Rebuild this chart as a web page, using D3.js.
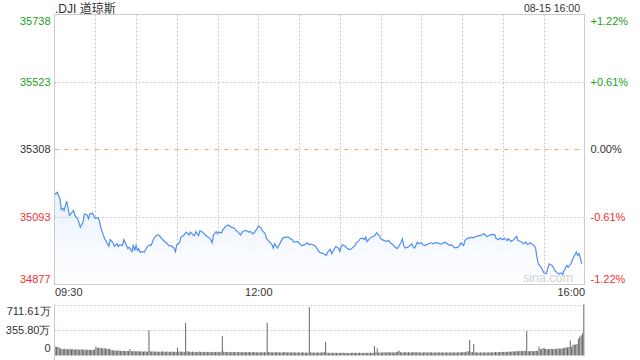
<!DOCTYPE html>
<html><head><meta charset="utf-8">
<script src="https://cdn.jsdelivr.net/npm/d3@7"></script>
<style>
html,body{margin:0;padding:0;background:#fff;}
svg{display:block;font-family:"Liberation Sans",Arial,"Noto Sans CJK SC",sans-serif;}
</style></head>
<body><svg id="c" width="640" height="360"></svg>
<script>
const title = ".DJI 道琼斯";
const stamp = "08-15 16:00";
const prevClose = 35308;
const priceTicks = [35738, 35523, 35308, 35093, 34877];
const pctTicks = ["+1.22%", "+0.61%", "0.00%", "-0.61%", "-1.22%"];
const timeTickMinutes = [0, 150, 390];
const timeTickLabels = ["09:30", "12:00", "16:00"];
const volTicks = [711.61, 355.80, 0];
const volTickLabels = ["711.61万", "355.80万", "0"];

const minutes = [0,2,4,5,6,7,9,11,12,14,15,17,19,21,22,24,25,26,28,29,30,32,33,34,36,37,39,40,41,43,44,46,47,48,50,51,53,54,55,57,58,59,60,61,62,63,65,66,68,70,71,73,75,76,77,79,81,83,84,86,88,89,90,92,93,95,96,
97,99,100,102,103,104,106,107,109,111,112,114,115,116,117,119,120,121,123,124,126,128,130,132,133,135,137,138,140,141,143,144,146,147,149,150,152,153,155,156,158,160,161,162,164,165,167,168,170,172,173,175,176,178,179,181,182,184,186,187,189,190,192,193,
195,197,198,200,201,203,204,206,207,209,210,211,212,214,215,217,218,219,221,222,224,225,227,228,229,230,232,233,235,236,237,239,240,241,243,244,246,247,249,250,252,253,255,256,257,258,260,261,263,264,265,267,268,270,271,272,274,275,277,279,280,282,284,285,287,288,290,
291,292,294,295,297,298,299,301,302,304,305,307,308,310,311,313,314,316,317,318,320,321,323,324,325,327,328,330,331,333,334,336,337,338,340,341,343,344,345,347,348,350,351,353,354,355,356,357,359,360,362,363,364,366,367,368,370,371,373,374,375,377,378,380,381,382,384,385,386,387,388];

const prices = [35163,35171,35150,35116,35120,35113,35142,35097,35102,35113,35097,35087,35060,35076,35102,35099,35087,35102,35104,35095,35088,35090,35081,35060,35033,35023,35007,34999,35020,35010,34999,35007,34998,35004,35001,35020,35001,34991,34996,34982,35004,34985,35001,34985,34991,34980,34982,34980,34996,35004,35001,35023,35033,35035,35033,35023,35014,35007,35001,35000,34993,34982,35004,35010,35028,35033,35039,
35044,35035,35044,35035,35033,35046,35033,35049,35044,35035,35031,35025,35020,35010,35035,35046,35039,35044,35042,35052,35063,35067,35060,35057,35052,35044,35035,35044,35049,35049,35044,35046,35039,35042,35055,35063,35057,35049,35039,35023,35014,35004,34993,35007,34993,35001,35017,35025,35028,35028,35025,35020,35012,35014,35014,35004,35001,35004,35010,35004,35006,35004,34999,34993,
34980,34977,34975,34970,34980,34989,34975,34991,34998,34993,34982,34999,35004,34999,34993,34989,34989,34993,35001,35010,35017,35023,35025,35020,35028,35014,35023,35028,35031,35035,35042,35033,35023,35020,35017,35014,35017,35010,35004,34999,34991,34996,35012,35023,35001,34993,34996,34999,35007,34996,34993,35012,35007,35010,35004,35001,35004,35007,35010,35007,35010,35010,35006,35007,35012,35010,35004,
35001,35004,34996,34994,34996,35001,35010,35001,35017,35025,35025,35028,35026,35030,35031,35033,35035,35039,35035,35030,35033,35036,35037,35036,35023,35020,35025,35020,35025,35017,35023,35014,35017,35020,35031,35017,35014,35012,35007,35012,35004,35010,35007,35001,34993,34964,34943,34938,34925,34914,34911,34929,34943,34938,34932,34922,34914,34911,34914,34908,34922,34938,34932,34943,34954,34964,34980,34970,34975,34961,34943];

// per-minute volume, in 万
const volumes = [
125,118,120,110,95,92,88,95,90,85,
88,92,85,90,86,82,88,84,80,86,
85,80,84,78,82,80,78,76,80,85,
125,105,110,100,108,95,102,98,92,88,
95,80,75,70,72,68,65,70,66,62,
68,64,60,65,62,90,64,58,62,60,
58,62,55,60,56,52,58,55,54,350,
60,55,58,52,56,54,50,55,52,58,
54,50,56,52,48,55,52,50,54,48,
106,52,58,50,55,48,454,60,52,56,
50,54,48,52,46,50,55,48,52,46,
50,48,52,46,50,44,48,52,46,50,
48,46,52,270,55,48,50,46,48,44,
50,46,48,44,47,50,45,48,44,46,
48,44,46,50,42,46,48,44,46,42,
46,44,48,42,45,46,454,50,44,46,
42,46,44,48,42,45,44,42,46,48,
44,42,46,40,44,42,45,43,40,44,
42,40,44,42,38,42,40,676,45,40,
42,38,40,44,38,42,40,45,50,191,
40,38,36,40,38,36,40,37,38,35,
38,36,40,35,38,36,34,38,36,40,
36,38,35,37,40,36,38,35,37,36,
38,36,40,35,38,131,45,100,42,40,
44,42,46,40,45,48,42,44,46,40,
44,48,52,70,46,44,42,48,45,42,
46,44,42,45,48,43,46,42,44,40,
44,42,46,43,40,45,42,44,41,43,
40,44,42,45,41,43,40,42,44,41,
43,40,45,42,44,41,43,46,42,45,
48,44,50,55,60,215,52,48,160,45,
42,44,40,43,41,44,42,45,40,44,
42,46,43,45,48,44,46,50,47,49,
52,48,55,50,54,52,56,58,55,60,
58,62,60,65,62,64,66,340,60,62,
58,64,60,62,66,62,125,92,88,105,
98,92,86,90,88,94,88,90,92,96,
94,98,96,100,102,108,115,112,118,210,
120,152,148,155,160,230,262,280,310,711.61];

const green = "#1ca01c", red = "#f03030", dark = "#333";
const tickColors = [green, green, dark, red, red];

const L = 54.5, R = 584.5, T = 14.5, B = 284.5;
const VT = 304.5, VB = 355.5;
const svg = d3.select("#c");

const x = d3.scaleLinear().domain([0, 390]).range([L, R]);
const y = d3.scaleLinear().domain([34877, 35738]).range([B, T]);
const vy = d3.scaleLinear().domain([0, 711.61]).range([VB, VT]);
const vx = d3.scaleBand().domain(d3.range(volumes.length)).range([L, R]);

// gradient
const defs = svg.append("defs");
const g = defs.append("linearGradient").attr("id","ag").attr("x1",0).attr("y1",0).attr("x2",0).attr("y2",1);
g.append("stop").attr("offset","0%").attr("stop-color","#e9f1fe").attr("stop-opacity",1);
g.append("stop").attr("offset","100%").attr("stop-color","#ffffff").attr("stop-opacity",1);

// vertical grid
const vgrid = d3.range(30, 390, 30);
svg.append("g").selectAll("line").data(vgrid).join("line")
  .attr("x1", d => Math.round(x(d)) + 0.5).attr("x2", d => Math.round(x(d)) + 0.5)
  .attr("y1", T).attr("y2", B)
  .attr("stroke", "#c8c8c8").attr("stroke-dasharray", "2,2");

const pts = minutes.map((m, i) => [m, prices[i]]);
svg.append("path").datum(pts)
  .attr("d", d3.area().x(d => x(d[0])).y0(B).y1(d => y(d[1])))
  .attr("fill", "url(#ag)");

// horizontal grid
svg.append("g").selectAll("line").data([priceTicks[1], priceTicks[3]]).join("line")
  .attr("x1", L).attr("x2", R)
  .attr("y1", d => Math.round(y(d)) + 0.5).attr("y2", d => Math.round(y(d)) + 0.5)
  .attr("stroke", "#c8c8c8").attr("stroke-dasharray", "2,2");
// previous close line
const pcY = Math.round(y(prevClose)) + 0.5;
svg.append("line").attr("x1", L).attr("x2", R).attr("y1", pcY).attr("y2", pcY)
  .attr("stroke", "#cfcfcf").attr("stroke-dasharray", "1,9").attr("stroke-dashoffset", -6);
svg.append("line").attr("x1", L).attr("x2", R).attr("y1", pcY).attr("y2", pcY)
  .attr("stroke", "#f3a26c").attr("stroke-dasharray", "4,6");

// watermark
svg.append("text").attr("x", 573).attr("y", 282).attr("text-anchor","end")
  .attr("font-size", 12.5).attr("fill", "#d0d0d0").text("sina.com");

svg.append("path").datum(pts)
  .attr("d", d3.line().x(d => x(d[0])).y(d => y(d[1])))
  .attr("fill", "none").attr("stroke", "#4f8ef2").attr("stroke-width", 1.2);

// frame
svg.append("rect").attr("x", L).attr("y", T).attr("width", R - L).attr("height", B - T)
  .attr("fill", "none").attr("stroke", "#cccccc");

const dyFor = n => (d, i) => i === 0 ? "0.95em" : i === n - 1 ? "-0.2em" : "0.32em";

// left axis
const la = svg.append("g").attr("transform", `translate(${L},0)`)
  .call(d3.axisLeft(y).tickValues(priceTicks).tickSize(0).tickPadding(4).tickFormat(d3.format("d")));
la.select(".domain").remove();
la.selectAll("text").attr("font-size", 11).attr("font-family", null)
  .attr("fill", (d, i) => tickColors[i]).attr("dy", dyFor(5));

// right axis
const ra = svg.append("g").attr("transform", `translate(${R},0)`)
  .call(d3.axisRight(y).tickValues(priceTicks).tickSize(0).tickPadding(6)
    .tickFormat((d, i) => pctTicks[i]));
ra.select(".domain").remove();
ra.selectAll("text").attr("font-size", 11).attr("font-family", null)
  .attr("fill", (d, i) => tickColors[i]).attr("dy", dyFor(5));

// time axis
const ta = svg.append("g").attr("transform", `translate(0,${B})`)
  .call(d3.axisBottom(x).tickValues(timeTickMinutes).tickSize(0).tickPadding(4)
    .tickFormat((d, i) => timeTickLabels[i]));
ta.select(".domain").remove();
ta.selectAll("text").attr("font-size", 11).attr("font-family", null).attr("fill", dark)
  .attr("text-anchor", (d, i) => i === 0 ? "start" : i === 2 ? "end" : "middle");

// title & stamp
svg.append("text").attr("x", 55).attr("y", 12.5).attr("font-size", 12).attr("fill", dark).text(title);
svg.append("text").attr("x", 580).attr("y", 12).attr("text-anchor","end").attr("font-size", 10.5).attr("fill", dark).text(stamp);

// volume panel
svg.append("g").selectAll("line").data(volTicks.slice(0, 2)).join("line")
  .attr("x1", L).attr("x2", R)
  .attr("y1", d => Math.round(vy(d)) + 0.5).attr("y2", d => Math.round(vy(d)) + 0.5)
  .attr("stroke", "#c8c8c8").attr("stroke-dasharray", "2,2");

svg.append("g").selectAll("rect").data(volumes).join("rect")
  .attr("x", (d, i) => vx(i) + vx.bandwidth() / 2 - 0.5)
  .attr("width", 1)
  .attr("y", d => vy(d))
  .attr("height", d => VB - vy(d))
  .attr("fill", "#666");

svg.append("line").attr("x1", L).attr("x2", L).attr("y1", VT).attr("y2", 360).attr("stroke", "#cccccc");

const va = svg.append("g").attr("transform", `translate(${L},0)`)
  .call(d3.axisLeft(vy).tickValues(volTicks).tickSize(0).tickPadding(4)
    .tickFormat((d, i) => volTickLabels[i]));
va.select(".domain").remove();
va.selectAll("text").attr("font-size", 11).attr("font-family", null).attr("fill", dark)
  .attr("dy", (d, i) => i === 0 ? "0.95em" : i === 2 ? "-0.35em" : "0.32em");
</script></body></html>
